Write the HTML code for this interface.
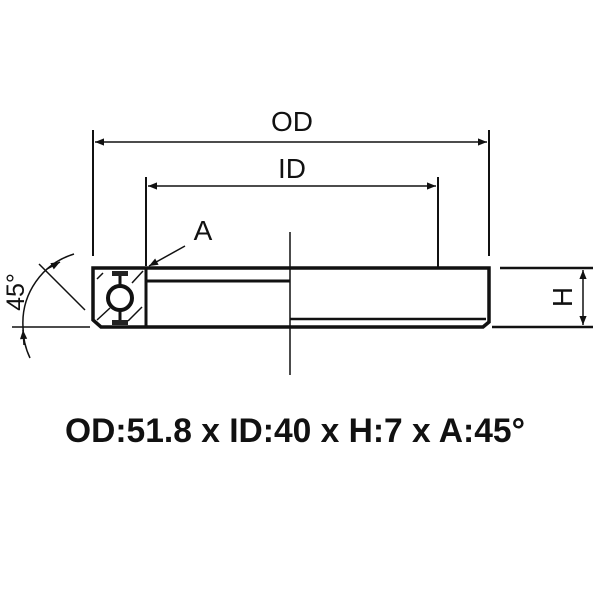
<!DOCTYPE html><html><head><style>body{margin:0;background:#fff}</style></head><body>
<svg width="600" height="600" xmlns="http://www.w3.org/2000/svg" font-family="Liberation Sans, sans-serif">
<defs><marker id="a" viewBox="0 0 10 10" refX="10" refY="5" markerWidth="9" markerHeight="6" orient="auto-start-reverse"><path d="M0,1 L10,5 L0,9 z" fill="#111"/></marker></defs>
<g stroke="#111" fill="none">
<line x1="93" y1="130" x2="93" y2="256" stroke-width="2"/>
<line x1="489" y1="130" x2="489" y2="256" stroke-width="2"/>
<line x1="95" y1="142" x2="487" y2="142" stroke-width="1.5" marker-start="url(#a)" marker-end="url(#a)"/>
<line x1="146" y1="177" x2="146" y2="266" stroke-width="2"/>
<line x1="438" y1="177" x2="438" y2="267" stroke-width="2"/>
<line x1="148" y1="186" x2="436" y2="186" stroke-width="1.5" marker-start="url(#a)" marker-end="url(#a)"/>
<line x1="290" y1="232" x2="290" y2="375" stroke-width="1.5"/>
<path d="M93,268 H489 V322 L483,327 H101 L93,320 Z" stroke-width="3.5"/>
<line x1="146" y1="268" x2="146" y2="327" stroke-width="3"/>
<line x1="146" y1="281" x2="290" y2="281" stroke-width="3"/>
<line x1="290" y1="319" x2="486" y2="319" stroke-width="2.5"/>
<line x1="97" y1="279" x2="103" y2="273" stroke-width="1.5"/>
<line x1="132" y1="283" x2="143" y2="271" stroke-width="1.5"/>
<line x1="97" y1="320" x2="110" y2="308" stroke-width="1.5"/>
<line x1="128" y1="321" x2="142" y2="307" stroke-width="1.5"/>
<circle cx="120" cy="298" r="12" stroke-width="4"/>
<line x1="185" y1="246" x2="149" y2="266" stroke-width="1.5" marker-end="url(#a)"/>
<line x1="500" y1="268" x2="593" y2="268" stroke-width="2.5"/>
<line x1="492" y1="327" x2="593" y2="327" stroke-width="2.5"/>
<line x1="583" y1="270" x2="583" y2="325" stroke-width="1.5" marker-start="url(#a)" marker-end="url(#a)"/>
<line x1="12" y1="327" x2="90" y2="327" stroke-width="1.5"/>
<line x1="39" y1="264" x2="85" y2="310" stroke-width="1.5"/>
<path d="M74,254 A72,72 0 0 0 23,327 A72,72 0 0 0 30,358" stroke-width="1.5"/>
<line x1="47" y1="269" x2="60" y2="262" stroke-width="1.5" marker-end="url(#a)"/>
<line x1="24" y1="345" x2="23" y2="330" stroke-width="1.5" marker-end="url(#a)"/>
</g>
<rect x="112" y="271" width="16" height="5" fill="#222"/>
<rect x="112" y="320" width="16" height="5" fill="#222"/>
<line x1="120" y1="276" x2="120" y2="286" stroke="#111" stroke-width="3"/>
<line x1="120" y1="310" x2="120" y2="320" stroke="#111" stroke-width="3"/>
<g fill="#111" font-size="28" text-anchor="middle">
<text x="292" y="131">OD</text>
<text x="292" y="178">ID</text>
<text x="203" y="240">A</text>
<text transform="translate(572,297) rotate(-90)">H</text>
<text transform="translate(24,292) rotate(-90)" font-size="25">45°</text>
</g>
<text x="65" y="442" font-weight="bold" font-size="34" fill="#111" textLength="460" lengthAdjust="spacingAndGlyphs">OD:51.8 x ID:40 x H:7 x A:45°</text>
</svg></body></html>
